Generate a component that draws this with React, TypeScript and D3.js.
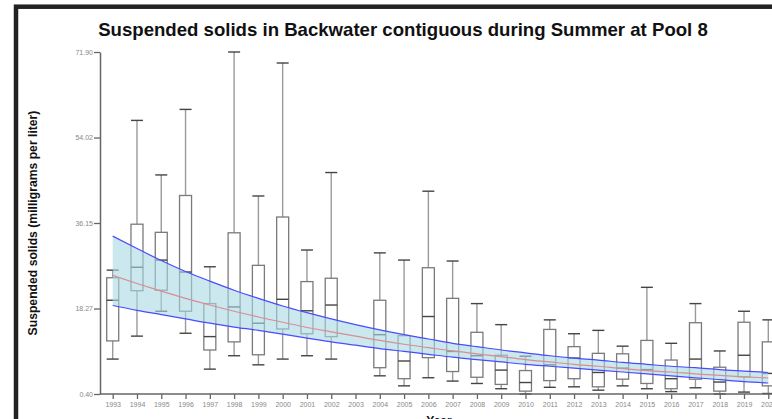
import { useEffect, useRef } from 'react';
import * as d3 from 'd3';

// Box plot statistics per year (null = no samples that year)
const years = d3.range(1993, 2021).map(String);
const whiskerHigh = [26.3, 57.6, 46.2, 59.9, 27.0, 71.9, 41.8, 69.6, 30.5, 46.7, null, 29.9, 28.4, 42.8, 28.2, 19.3, 14.9, 8.3, 15.9, 13.0, 13.7, 10.4, 22.7, 11.0, 19.3, 9.4, 17.7, 15.9];
const q3 = [24.7, 35.9, 34.2, 41.9, 19.3, 34.1, 27.3, 37.4, 23.9, 24.6, null, 20.0, 12.6, 26.8, 20.4, 13.3, 8.5, 5.3, 13.9, 10.3, 8.9, 8.8, 11.6, 7.5, 15.3, 6.0, 15.4, 11.3];
const median = [20.0, 26.9, 28.4, 25.9, 12.4, 18.6, 15.2, 20.2, 17.8, 19.0, null, 12.8, 7.3, 16.6, 9.3, 8.4, 5.4, 2.8, 6.5, 7.9, 4.9, 5.8, 5.5, 3.6, 7.7, 2.9, 8.5, 4.7];
const q1 = [11.5, 22.0, 22.1, 17.7, 9.6, 11.3, 8.6, 14.0, 13.0, 12.4, null, 5.9, 3.6, 8.0, 5.1, 3.9, 2.4, 1.0, 3.2, 3.6, 1.9, 3.5, 2.6, 1.5, 3.5, 1.0, 4.0, 2.1];
const whiskerLow = [7.7, 12.5, 17.7, 13.1, 5.6, 8.4, 6.5, 7.7, 8.4, 7.7, null, 4.2, 2.1, 3.8, 3.1, 2.6, 1.5, 0.4, 1.8, 1.9, 1.2, 2.1, 1.5, 0.9, 1.7, 0.4, 0.8, 0.5];

// Trend line and its confidence band, read per year
const trendFit = [25.2, 23.5, 21.9, 20.4, 19.0, 17.7, 16.5, 15.4, 14.3, 13.4, 12.5, 11.6, 10.8, 10.1, 9.4, 8.8, 8.2, 7.6, 7.1, 6.6, 6.2, 5.7, 5.3, 5.0, 4.6, 4.3, 4.0, 3.75];
const trendUpper = [33.4, 30.8, 28.3, 26.0, 24.0, 22.1, 20.4, 18.8, 17.4, 16.1, 14.9, 13.8, 12.8, 11.9, 11.0, 10.3, 9.6, 9.0, 8.4, 7.9, 7.5, 7.0, 6.6, 6.2, 5.9, 5.5, 5.2, 4.9];
const trendLower = [18.9, 17.9, 17.0, 16.1, 15.2, 14.4, 13.7, 12.9, 12.1, 11.3, 10.6, 9.9, 9.3, 8.7, 8.1, 7.6, 7.1, 6.6, 6.2, 5.8, 5.4, 5.0, 4.6, 4.2, 3.8, 3.4, 3.0, 2.7];

const yTicks = [0.40, 18.27, 36.15, 54.02, 71.90];

const App = () => {
  const svgRef = useRef(null);

  useEffect(() => {
    const svg = d3.select(svgRef.current);
    svg.selectAll('*').remove();

    const x = d3.scalePoint().domain(years).range([112.7, 768.3]);
    const y = d3.scaleLinear().domain([0.4, 71.9]).range([394, 52]);
    const boxW = 12;
    const font = 'Liberation Sans, Arial, sans-serif';

    // frame
    svg.append('rect')
      .attr('x', 16).attr('y', 6.7)
      .attr('width', 800).attr('height', 450)
      .attr('fill', 'white')
      .attr('stroke', '#222').attr('stroke-width', 4.5);

    svg.append('text')
      .attr('x', 403).attr('y', 36)
      .attr('text-anchor', 'middle')
      .attr('font-family', font)
      .attr('font-weight', 'bold').attr('font-size', 18.6)
      .attr('fill', '#111')
      .text('Suspended solids in Backwater contiguous during Summer at Pool 8');

    svg.append('text')
      .attr('transform', 'translate(36.5,223) rotate(-90)')
      .attr('text-anchor', 'middle')
      .attr('font-family', font)
      .attr('font-weight', 'bold').attr('font-size', 12.2)
      .attr('fill', '#111')
      .text('Suspended solids (milligrams per liter)');

    svg.append('text')
      .attr('x', 439).attr('y', 425)
      .attr('text-anchor', 'middle')
      .attr('font-family', font)
      .attr('font-weight', 'bold').attr('font-size', 12)
      .attr('fill', '#111')
      .text('Year');

    // boxes
    const stats = years.map((yr, i) => ({
      yr, lo: whiskerLow[i], q1: q1[i], med: median[i], q3: q3[i], hi: whiskerHigh[i],
    })).filter(d => d.med != null);

    const g = svg.append('g');
    g.selectAll('.whisker').data(stats).enter().append('line')
      .attr('x1', d => x(d.yr)).attr('x2', d => x(d.yr))
      .attr('y1', d => y(d.hi)).attr('y2', d => y(d.lo))
      .attr('stroke', '#9a9a9a').attr('stroke-width', 1.4);

    g.selectAll('.box').data(stats).enter().append('rect')
      .attr('x', d => x(d.yr) - boxW / 2).attr('width', boxW)
      .attr('y', d => y(d.q3)).attr('height', d => y(d.q1) - y(d.q3))
      .attr('fill', 'white')
      .attr('stroke', '#7a7a7a').attr('stroke-width', 1.3);

    ['hi', 'lo', 'med'].forEach(k => {
      g.selectAll(`.cap-${k}`).data(stats).enter().append('line')
        .attr('x1', d => x(d.yr) - boxW / 2).attr('x2', d => x(d.yr) + boxW / 2)
        .attr('y1', d => y(d[k])).attr('y2', d => y(d[k]))
        .attr('stroke', '#444').attr('stroke-width', 1.4);
    });

    // trend band
    const band = years.map((yr, i) => ({ yr, fit: trendFit[i], up: trendUpper[i], lo: trendLower[i] }));
    svg.append('path')
      .datum(band)
      .attr('fill', '#a9d8e4').attr('fill-opacity', 0.6)
      .attr('d', d3.area().x(d => x(d.yr)).y0(d => y(d.lo)).y1(d => y(d.up)).curve(d3.curveMonotoneX));
    [['up', '#4a4aff'], ['lo', '#4a4aff'], ['fit', '#d98c95']].forEach(([k, c]) => {
      svg.append('path')
        .datum(band)
        .attr('fill', 'none').attr('stroke', c).attr('stroke-width', 1.2)
        .attr('d', d3.line().x(d => x(d.yr)).y(d => y(d[k])).curve(d3.curveMonotoneX));
    });

    // axes
    const yAxis = svg.append('g')
      .attr('transform', 'translate(100,0)')
      .call(d3.axisLeft(y).tickValues(yTicks).tickFormat(d3.format('.2f')).tickSize(6).tickSizeOuter(0).tickPadding(1));
    yAxis.select('.domain').attr('stroke', '#666').attr('stroke-width', 1.5);
    yAxis.selectAll('.tick line').attr('stroke', '#666').attr('stroke-width', 1.3);
    yAxis.selectAll('.tick text').attr('fill', '#888').attr('font-size', 7).attr('font-family', font);

    svg.append('line')
      .attr('x1', 100).attr('x2', 790).attr('y1', 394).attr('y2', 394)
      .attr('stroke', '#666').attr('stroke-width', 1.5);
    const xAxis = svg.append('g')
      .attr('transform', 'translate(0,394)')
      .call(d3.axisBottom(x).tickSize(5).tickSizeOuter(0).tickPadding(3));
    xAxis.select('.domain').remove();
    xAxis.selectAll('.tick line').attr('stroke', '#666').attr('stroke-width', 1.3);
    xAxis.selectAll('.tick text').attr('fill', '#888').attr('font-size', 7).attr('font-family', font);

    return () => {
      svg.selectAll('*').remove();
    };
  }, []);

  return (
    <svg ref={svgRef} width={772} height={419}
      style={{ position: 'absolute', left: 0, top: 0, display: 'block', background: 'white' }} />
  );
};

export default App;
